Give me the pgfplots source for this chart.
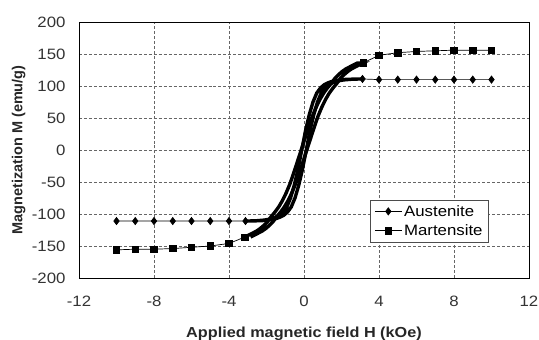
\documentclass[border=0pt]{standalone}
\usepackage{fontspec}
\setmainfont[FakeStretch=1.12]{Liberation Sans}
\newfontfamily\ylabfont{Liberation Sans}
\usepackage{pgfplots}
\pgfplotsset{compat=1.18}
\begin{document}
\begin{tikzpicture}
\useasboundingbox (-79bp,-62bp) rectangle (460bp,278bp);
\begin{axis}[
  at={(0,0)}, anchor=south west,
  scale only axis, width=450bp, height=256bp,
  xmin=-12, xmax=12, ymin=-200, ymax=200,
  xtick={-12,-8,-4,0,4,8,12}, ytick={-200,-150,...,200},
  major tick length=0pt,
  grid=major,
  major grid style={black!60, dash pattern=on 3pt off 2pt, line width=0.5pt},
  axis line style={black, line width=0.9pt},
  /pgf/number format/assume math mode=true,
  tick label style={font=\fontsize{15bp}{18bp}\selectfont, text=black!80},
  xticklabel style={yshift=-15bp},
  yticklabel style={xshift=-10bp},
  xlabel={Applied magnetic field H (kOe)},
  ylabel={\ylabfont\bfseries Magnetization M (emu/g)},
  label style={font=\fontsize{14.5bp}{17bp}\selectfont\bfseries, text=black!85},
  xlabel style={at={(axis description cs:0.5,0)}, anchor=north, yshift=-45bp},
  ylabel style={at={(axis description cs:0,0.5)}, anchor=south, yshift=50bp},
  unbounded coords=jump,
  legend style={at={(0.647,0.305)}, anchor=north west, draw=black!70, line width=0.6pt,
    font=\fontsize{15bp}{18bp}\selectfont, row sep=3bp, inner xsep=4bp, inner ysep=3bp},
  legend cell align=left,
  legend image code/.code={\draw[mark repeat=2,mark phase=2,#1] plot coordinates {(0bp,0bp) (13.5bp,0bp) (27bp,0bp)};},
]
% Austenite hysteresis loop (dense points)
\addplot[black, line width=3.4pt, forget plot] coordinates {
(-2.88,-111)(-2.68,-111)(-2.48,-110.5)(-2.28,-110.5)(-2.08,-110)(-1.88,-109.5)(-1.68,-108.5)(-1.48,-107)(-1.28,-105)(-1.08,-102)(-0.88,-97)(-0.68,-89)(-0.48,-75)(-0.28,-55)(-0.08,-30)(0.12,0)(0.32,30)(0.52,55)(0.72,75)(0.92,89)(1.12,97)(1.32,102)(1.52,105)(1.72,107)(1.92,108.5)(2.12,109.5)(2.32,110)(2.52,110.5)(2.72,110.5)(2.92,111)(3.12,111)
(2.88,111)(2.68,111)(2.48,110.5)(2.28,110.5)(2.08,110)(1.88,109.5)(1.68,108.5)(1.48,107)(1.28,105)(1.08,102)(0.88,97)(0.68,89)(0.48,75)(0.28,55)(0.08,30)(-0.12,0)(-0.32,-30)(-0.52,-55)(-0.72,-75)(-0.92,-89)(-1.12,-97)(-1.32,-102)(-1.52,-105)(-1.72,-107)(-1.92,-108.5)(-2.12,-109.5)(-2.32,-110)(-2.52,-110.5)(-2.72,-110.5)(-2.92,-111)(-3.12,-111)
};
% Martensite hysteresis loop (dense points)
\addplot[black, line width=3.4pt, forget plot] coordinates {
(-2.85,-136)(-2.65,-133)(-2.45,-130)(-2.25,-127)(-2.05,-123)(-1.85,-118)(-1.65,-112)(-1.45,-104)(-1.25,-97)(-1.05,-89)(-0.85,-79)(-0.65,-67)(-0.45,-53)(-0.25,-36)(-0.05,-18)(0.15,0)(0.35,18)(0.55,36)(0.75,53)(0.95,67)(1.15,79)(1.35,89)(1.55,97)(1.75,104)(1.95,112)(2.15,118)(2.35,123)(2.55,127)(2.75,130)(2.95,133)(3.15,136)
(2.85,136)(2.65,133)(2.45,130)(2.25,127)(2.05,123)(1.85,118)(1.65,112)(1.45,104)(1.25,97)(1.05,89)(0.85,79)(0.65,67)(0.45,53)(0.25,36)(0.05,18)(-0.15,0)(-0.35,-18)(-0.55,-36)(-0.75,-53)(-0.95,-67)(-1.15,-79)(-1.35,-89)(-1.55,-97)(-1.75,-104)(-1.95,-112)(-2.15,-118)(-2.35,-123)(-2.55,-127)(-2.75,-130)(-2.95,-133)(-3.15,-136)
};
\addplot[black, line width=0.7pt, mark=diamond*, mark size=3.6pt, mark options={solid}] coordinates {
(-10,-111)(-9,-111)(-8,-111)(-7,-111)(-6,-111)(-5,-111)(-4,-111)(-3.12,-111)
(0,nan)
(3.12,111)(4,110)(5,110)(6,110)(7,110)(8,110)(9,110)(10,110)
};
\addlegendentry{Austenite}
\addplot[black, line width=0.7pt, mark=square*, mark size=3.2pt, mark options={solid}] coordinates {
(-10,-156)(-9,-155)(-8,-155)(-7,-154)(-6,-152)(-5,-150)(-4,-146)(-3.15,-136)
(0,nan)
(3.15,136)(4,148)(5,152)(6,154)(7,155)(8,156)(9,156)(10,156)
};
\addlegendentry{Martensite}
\end{axis}
\end{tikzpicture}
\end{document}
